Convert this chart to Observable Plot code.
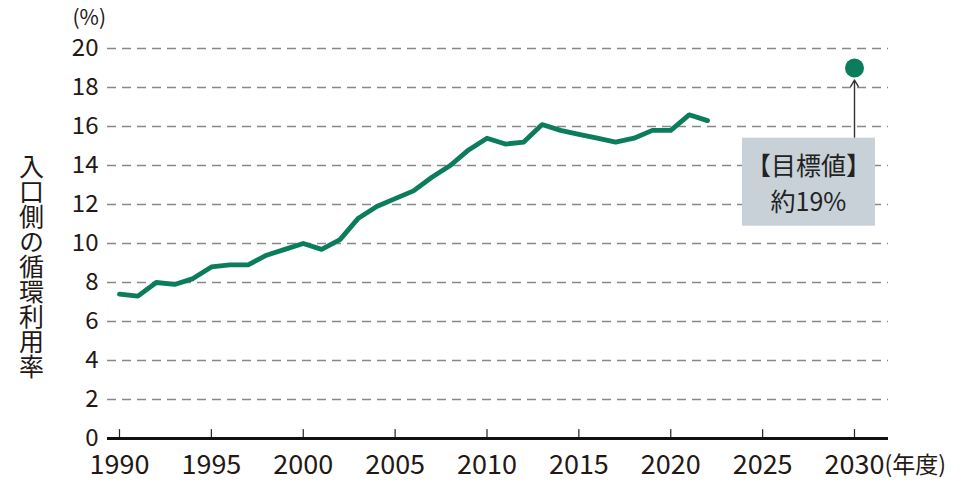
<!DOCTYPE html>
<html>
<head>
<meta charset="utf-8">
<script src="https://cdn.jsdelivr.net/npm/d3@7"></script>
<script src="https://cdn.jsdelivr.net/npm/@observablehq/plot@0.6"></script>
<style>
  html, body { margin: 0; padding: 0; background: #fff; }
  #chart { width: 961px; height: 489px; }
</style>
</head>
<body>
<div id="chart"></div>
<script>
// ---- data ----
const years = [1990,1991,1992,1993,1994,1995,1996,1997,1998,1999,2000,2001,2002,2003,2004,2005,2006,2007,2008,2009,2010,2011,2012,2013,2014,2015,2016,2017,2018,2019,2020,2021,2022];
const rates = [7.4,7.3,8.0,7.9,8.2,8.8,8.9,8.9,9.4,9.7,10.0,9.7,10.2,11.3,11.9,12.3,12.7,13.4,14.0,14.8,15.4,15.1,15.2,16.1,15.8,15.6,15.4,15.2,15.4,15.8,15.8,16.6,16.3];
const targetYear = 2030;
const targetValue = 19;
const targetLabel = "【目標値】\n約19%";
const labelValue = 13.2;       // vertical centre of the annotation box
const arrowStartValue = 15.45; // top of the annotation box
const xTicks = [1990,1995,2000,2005,2010,2015,2020,2025,2030];
const yTicks = [0,2,4,6,8,10,12,14,16,18,20];
const yTitle = "入口側の循環利用率";
const yUnit = "(%)";
const xUnit = "(年度)";

const series = years.map((y, i) => ({year: y, rate: rates[i]}));
const target = [{year: targetYear, value: targetValue}];

const green = "#0b7c5c";
const ink = "#231815";
const font = "'Noto Sans CJK JP', 'Noto Sans', sans-serif";

const tickShape = {draw(ctx, l) { ctx.moveTo(0, 0); ctx.lineTo(0, -l); }};

const chart = Plot.plot({
  width: 961,
  height: 489,
  marginLeft: 107,
  marginRight: 73,
  marginTop: 48,
  marginBottom: 51,
  style: {fontFamily: font, fontSize: "24px", color: ink, background: "#fff"},
  x: {domain: [1990, 2030], insetLeft: 12, insetRight: 34},
  y: {domain: [0, 20]},
  marks: [
    Plot.gridY(yTicks.filter(d => d > 0), {stroke: "#888", strokeOpacity: 1, strokeWidth: 1.6, strokeDasharray: "9,6"}),
    Plot.axisY({ticks: yTicks, tickSize: 0, tickPadding: 9, label: null, fill: ink, tickFormat: d => String(d)}),
    Plot.axisX({ticks: xTicks, tickSize: 0, tickPadding: 16, label: null, fill: ink, tickFormat: d => String(d), className: "x-labels"}),
    Plot.vector(xTicks, {x: d => d, frameAnchor: "bottom", length: 9, anchor: "start", shape: tickShape, stroke: "#222", strokeWidth: 1.2}),
    Plot.ruleY([0], {stroke: "#111", strokeWidth: 3}),
    Plot.text([xUnit], {x: () => targetYear, frameAnchor: "bottom", dx: 30, dy: 18, textAnchor: "start", lineAnchor: "top", fontSize: 23, fill: ink, text: d => d, className: "x-unit"}),
    Plot.text([yUnit], {frameAnchor: "top-left", dx: -35, dy: -30, textAnchor: "start", lineAnchor: "middle", fontSize: 21, fill: ink, text: d => d, className: "y-unit"}),
    Plot.text([yTitle], {frameAnchor: "left", dx: -76, dy: 15, fontSize: 25, fill: ink, text: d => d, className: "y-title"}),
    Plot.line(series, {x: "year", y: "rate", stroke: green, strokeWidth: 4.8, strokeLinejoin: "round"}),
    Plot.arrow(target, {x1: "year", x2: "year", y1: () => arrowStartValue, y2: "value", insetEnd: 12, stroke: "#333", strokeWidth: 1.4, headLength: 8}),
    Plot.dot(target, {x: "year", y: "value", r: 9.5, fill: green}),
    Plot.text(target, {x: "year", y: () => labelValue, dx: -46, text: () => targetLabel, fontSize: 25, lineHeight: 1.45, fill: "#222", className: "target-label"})
  ]
});

document.getElementById("chart").appendChild(chart);

// larger x tick labels, as in the reference
chart.querySelectorAll("g.x-labels").forEach(el => el.style.fontSize = "27px");
chart.querySelectorAll("g.x-unit").forEach(el => el.style.fontSize = "23px");
chart.querySelectorAll("g.y-unit").forEach(el => el.style.fontSize = "21px");

// vertical writing for the y-axis title
const yt = chart.querySelector("g.y-title text");
if (yt) {
  yt.setAttribute("writing-mode", "vertical-rl");
  yt.setAttribute("text-anchor", "middle");
  yt.removeAttribute("dy");
}

// background box behind the annotation text (drawn inside the text's group)
const g = chart.querySelector("g.target-label");
if (g) {
  const bb = g.getBBox();
  const boxW = 133, boxH = 88;
  const cx = bb.x + bb.width / 2, cy = bb.y + bb.height / 2;
  const rect = document.createElementNS("http://www.w3.org/2000/svg", "rect");
  rect.setAttribute("x", cx - boxW / 2);
  rect.setAttribute("y", cy - boxH / 2);
  rect.setAttribute("width", boxW);
  rect.setAttribute("height", boxH);
  rect.setAttribute("fill", "#c8d0d8");
  g.insertBefore(rect, g.firstChild);
}
</script>
</body>
</html>
